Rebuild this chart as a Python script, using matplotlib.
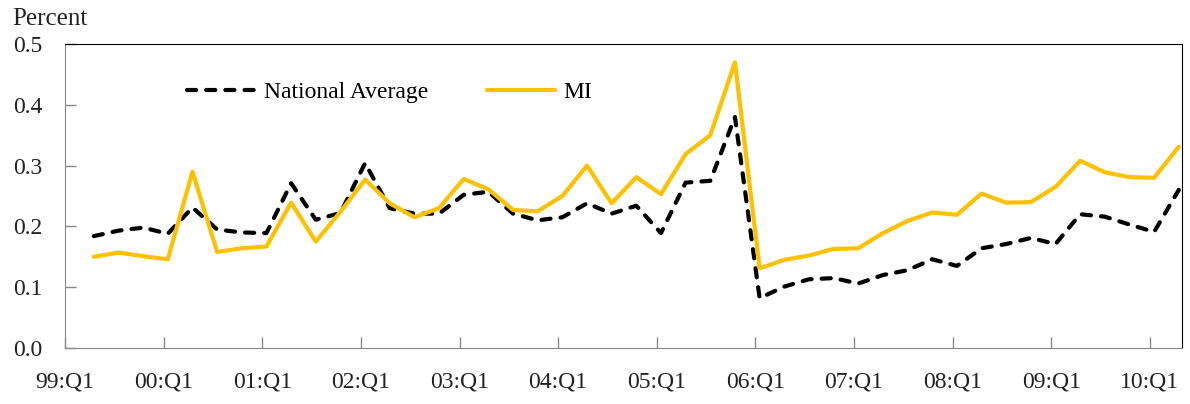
import numpy as np
import matplotlib
matplotlib.use("Agg")
import matplotlib.pyplot as plt

# quarterly series, 99:Q2 .. 10:Q2
national = [0.184, 0.193, 0.198, 0.188, 0.231, 0.195, 0.190, 0.189,
            0.271, 0.211, 0.222, 0.304, 0.230, 0.221, 0.221, 0.252,
            0.257, 0.221, 0.210, 0.215, 0.238, 0.221, 0.234, 0.189,
            0.272, 0.275, 0.380, 0.082, 0.101, 0.113, 0.115, 0.106,
            0.120, 0.128, 0.146, 0.135, 0.164, 0.171, 0.181, 0.171,
            0.220, 0.216, 0.203, 0.191, 0.260]
mi = [0.150, 0.157, 0.151, 0.146, 0.290, 0.158, 0.164, 0.167,
      0.239, 0.175, 0.224, 0.277, 0.238, 0.215, 0.230, 0.278,
      0.261, 0.227, 0.225, 0.250, 0.300, 0.238, 0.281, 0.253,
      0.319, 0.350, 0.470, 0.131, 0.145, 0.152, 0.163, 0.164,
      0.189, 0.209, 0.223, 0.219, 0.254, 0.239, 0.240, 0.265,
      0.308, 0.289, 0.281, 0.280, 0.331]
tick_labels = ["99:Q1", "00:Q1", "01:Q1", "02:Q1", "03:Q1", "04:Q1",
               "05:Q1", "06:Q1", "07:Q1", "08:Q1", "09:Q1", "10:Q1"]

plt.rcParams["font.family"] = ["Liberation Serif", "DejaVu Serif"]

fig = plt.figure(figsize=(11.9, 4.04), dpi=100)
ax = fig.add_axes([65 / 1190, 56 / 404, 1117 / 1190, 304 / 404])

x = np.arange(1, len(mi) + 1)
ax.plot(x, national, color="black", lw=3.0, ls=(0, (2.2, 2.4)),
        dash_capstyle="round", label="National Average")
ax.plot(x, mi, color="#FFC000", lw=3.0, solid_capstyle="round", label="MI")

ax.set_xlim(-0.14, 45.13)
ax.set_ylim(0, 0.5)
ax.set_yticks(np.arange(0, 0.51, 0.1))
ax.set_yticklabels([f"{v:.1f}" for v in np.arange(0, 0.51, 0.1)])
ax.set_xticks(np.arange(0, 45, 4) - 0.17)
ax.set_xticklabels(tick_labels)
ax.tick_params(axis="both", direction="in", length=8, width=1, color="#888888",
               labelsize=17, labelcolor="#222222")
ax.tick_params(axis="y", pad=16)
ax.tick_params(axis="x", pad=17)
for side in ["left", "bottom"]:
    ax.spines[side].set_color("#888888")
for side in ["top", "right"]:
    ax.spines[side].set_color("black")

ax.legend(loc="upper left", bbox_to_anchor=(0.09, 0.945), ncol=2, frameon=False,
          fontsize=17, handlelength=2.9, columnspacing=2.5, handletextpad=0.35)

fig.text(12 / 1190, 1 - 19 / 404, "Percent", fontsize=18, color="#222222",
         ha="left", va="center")

fig.savefig("out.png", dpi=100)
